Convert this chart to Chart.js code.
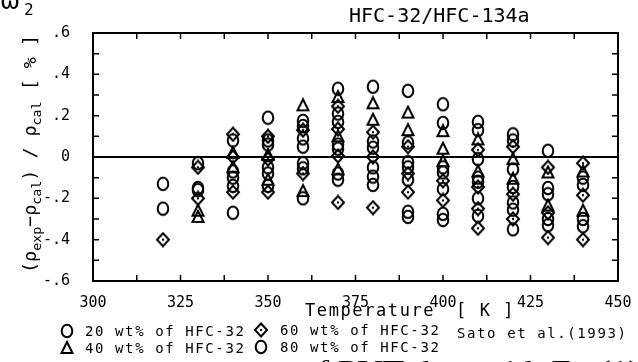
<!DOCTYPE html>
<html>
<head>
<meta charset="utf-8">
<script src="https://cdn.jsdelivr.net/npm/chart.js@4.4.1/dist/chart.umd.min.js"></script>
<style>
  html, body { margin: 0; padding: 0; background: #fff; }
  #wrap { width: 638px; height: 362px; }
</style>
</head>
<body>
<div id="wrap"><canvas id="chart" width="638" height="362"></canvas></div>
<script>
// Temperatures of the measured isotherms [K]
const temps = [320, 330, 340, 350, 360, 370, 380, 390, 400, 410, 420, 430, 440];

// Deviations [%] read at each temperature, one list per composition
const wt20 = [[-0.13], [-0.03, -0.15], [0.08, -0.10, -0.27], [0.19, 0.06, -0.05], [0.175, 0.05, -0.03],
  [0.33, 0.21, 0.06, -0.08], [0.34, 0.075, -0.05], [0.32, 0.07, -0.05, -0.265], [0.255, -0.05, -0.275],
  [0.17, -0.01, -0.12, -0.285], [0.11, -0.06, -0.255], [0.03, -0.15, -0.30], [-0.135, -0.30]];
const wt40 = [[], [-0.26, -0.29], [0.02, -0.05], [0.01, -0.11], [0.25, -0.165],
  [0.29, 0.10, -0.06], [0.26, 0.18], [0.215, 0.13], [0.125, 0.04, -0.02],
  [0.085, -0.07], [-0.01, -0.105], [-0.075, -0.235], [-0.07, -0.26]];
const wt60 = [[-0.40], [-0.05, -0.20], [0.11, 0.0, -0.17], [0.10, -0.01, -0.17], [0.13, -0.08],
  [0.245, 0.135, 0.005, -0.22], [0.12, 0.0, -0.245], [0.05, -0.08, -0.17], [-0.115, -0.21],
  [0.035, -0.145, -0.25, -0.345], [0.05, -0.18, -0.30], [-0.05, -0.27, -0.39], [-0.03, -0.185, -0.40]];
const wt80 = [[-0.25], [-0.16], [-0.14, -0.07], [0.08, -0.08, -0.14], [0.15, 0.09, -0.055, -0.20],
  [0.17, 0.04, -0.11], [0.045, -0.095, -0.135], [-0.025, -0.11, -0.29], [0.165, -0.075, -0.155, -0.305],
  [0.13, -0.10, -0.20], [0.08, -0.145, -0.22, -0.35], [-0.18, -0.33], [-0.10, -0.335]];

const seriesLabels = ['20 wt% of HFC-32', '40 wt% of HFC-32', '60 wt% of HFC-32', '80 wt% of HFC-32'];
const xTicks = [300, 325, 350, 375, 400, 425, 450];
const yTicks = [-0.6, -0.4, -0.2, 0, 0.2, 0.4, 0.6];

const MONO = "'DejaVu Sans Mono', 'Liberation Mono', monospace";

function toPoints(lists) {
  const pts = [];
  lists.forEach((vals, i) => vals.forEach(v => pts.push({ x: temps[i], y: v })));
  return pts;
}

// hand-drawn marker images (open symbols, like the plotter ones)
function marker(kind) {
  const c = document.createElement('canvas');
  c.width = 16; c.height = 16;
  const g = c.getContext('2d');
  g.strokeStyle = '#000';
  g.lineWidth = 2;
  g.beginPath();
  if (kind === 'circle') {
    g.ellipse(8, 8, 5.3, 6.3, 0, 0, Math.PI * 2);
  } else if (kind === 'triangle') {
    g.moveTo(8, 2); g.lineTo(13.5, 13); g.lineTo(2.5, 13); g.closePath();
  } else if (kind === 'diamond') {
    g.moveTo(8, 1.5); g.lineTo(14, 8); g.lineTo(8, 14.5); g.lineTo(2, 8); g.closePath();
  }
  g.stroke();
  if (kind === 'diamond') {
    g.fillStyle = '#000';
    g.beginPath(); g.arc(8, 8, 1.2, 0, Math.PI * 2); g.fill();
  }
  return c;
}
const markers = [marker('circle'), marker('triangle'), marker('diamond'), marker('circle')];

// box, inward ticks and all the loose text of the figure
const decorations = {
  id: 'decorations',
  afterDraw(chart) {
    const ctx = chart.ctx;
    const a = chart.chartArea;
    const xs = chart.scales.x, ys = chart.scales.y;
    ctx.save();
    ctx.strokeStyle = '#000';
    ctx.lineWidth = 2;
    ctx.strokeRect(a.left, a.top, a.right - a.left, a.bottom - a.top);

    ctx.lineWidth = 1.5;
    ctx.beginPath();
    for (let t = 300; t <= 450; t += 12.5) {
      const px = xs.getPixelForValue(t);
      ctx.moveTo(px, a.bottom); ctx.lineTo(px, a.bottom - 6);
      ctx.moveTo(px, a.top); ctx.lineTo(px, a.top + 6);
    }
    for (let k = -6; k <= 6; k++) {
      const py = ys.getPixelForValue(k / 10);
      ctx.moveTo(a.left, py); ctx.lineTo(a.left + 6, py);
      ctx.moveTo(a.right, py); ctx.lineTo(a.right - 6, py);
    }
    ctx.stroke();

    ctx.fillStyle = '#000';
    ctx.textBaseline = 'alphabetic';
    ctx.textAlign = 'left';

    // omega_2 (cut at the top edge)
    ctx.font = "24px 'DejaVu Sans'";
    ctx.fillText('ω', 0, 9);
    ctx.font = "16px " + MONO;
    ctx.fillText('2', 24, 15);

    // panel title
    ctx.font = "20px " + MONO;
    ctx.fillText('HFC-32/HFC-134a', 349, 22);

    // x axis title
    ctx.font = "17px " + MONO;
    ctx.letterSpacing = '1.6px';
    ctx.fillText('Temperature', 305, 316);
    ctx.fillText('[ K ]', 456, 316);

    // legend
    ctx.font = "14px " + MONO;
    ctx.letterSpacing = '1.6px';
    const rows = [[67, 331, 85], [67, 348, 85], [261, 330, 280], [261, 347, 280]];
    rows.forEach((r, i) => {
      ctx.drawImage(markers[i], r[0] - 8, r[1] - 8);
      ctx.fillText(seriesLabels[i], r[2], r[1] + 5);
    });
    ctx.fillText('Sato et al.(1993)', 457, 338);
    ctx.letterSpacing = '0px';

    // y axis title, rotated, with subscripts
    const parts = [['(', 0], ['ρ', 0], ['exp', 1], ['−', 0], ['ρ', 0], ['cal', 1], [')', 0],
      [' / ', 0], ['ρ', 0], ['cal', 1], [' [ % ]', 0]];
    const mainFont = "18px " + MONO, subFont = "13px " + MONO;
    let total = 0;
    parts.forEach(p => { ctx.font = p[1] ? subFont : mainFont; total += ctx.measureText(p[0]).width; });
    const span = 273 - 35;
    ctx.translate(36, 273);
    ctx.rotate(-Math.PI / 2);
    ctx.scale(span / total, 1);
    let x = 0;
    parts.forEach(p => {
      ctx.font = p[1] ? subFont : mainFont;
      ctx.fillText(p[0], x, p[1] ? 5 : 0);
      x += ctx.measureText(p[0]).width;
    });
    ctx.setTransform(1, 0, 0, 1, 0, 0);

    // caption, only its upper part falls inside the picture
    ctx.font = "26px 'Liberation Serif'";
    const cap = 'of PVT data with Eq.(1)';
    const w = ctx.measureText(cap).width;
    ctx.translate(300, 378);
    ctx.scale(340 / w, 1);
    ctx.fillText(cap, 0, 0);
    ctx.restore();
  }
};

const seriesData = [wt20, wt40, wt60, wt80];
const datasets = seriesData.map((s, i) => ({
  label: seriesLabels[i],
  data: toPoints(s),
  pointStyle: markers[i],
  pointRadius: 6,
  borderColor: '#000',
  backgroundColor: 'rgba(0,0,0,0)'
}));
datasets.push({
  label: 'zero',
  data: [{ x: 300, y: 0 }, { x: 450, y: 0 }],
  showLine: true,
  borderColor: '#000',
  borderWidth: 2,
  pointRadius: 0
});

new Chart(document.getElementById('chart'), {
  type: 'scatter',
  data: { datasets },
  options: {
    responsive: false,
    animation: false,
    layout: { padding: { top: 33, right: 20, left: 0, bottom: 0 } },
    plugins: { legend: { display: false }, tooltip: { enabled: false } },
    scales: {
      x: {
        type: 'linear',
        min: 300, max: 450,
        afterFit: s => { s.height = 81; },
        afterBuildTicks: s => { s.ticks = xTicks.map(v => ({ value: v })); },
        grid: { display: false },
        border: { display: false },
        ticks: { padding: 5, color: '#000', font: { family: MONO, size: 15 }, maxRotation: 0 }
      },
      y: {
        type: 'linear',
        min: -0.6, max: 0.6,
        afterFit: s => { s.width = 93; },
        afterBuildTicks: s => { s.ticks = yTicks.map(v => ({ value: v })); },
        grid: { display: false },
        border: { display: false },
        ticks: {
          padding: 15, color: '#000', font: { family: MONO, size: 15 },
          callback: v => Math.abs(v) < 1e-9 ? '0' : (v < 0 ? '-' : '') + '.' + Math.round(Math.abs(v) * 10)
        }
      }
    }
  },
  plugins: [decorations]
});
</script>
</body>
</html>
